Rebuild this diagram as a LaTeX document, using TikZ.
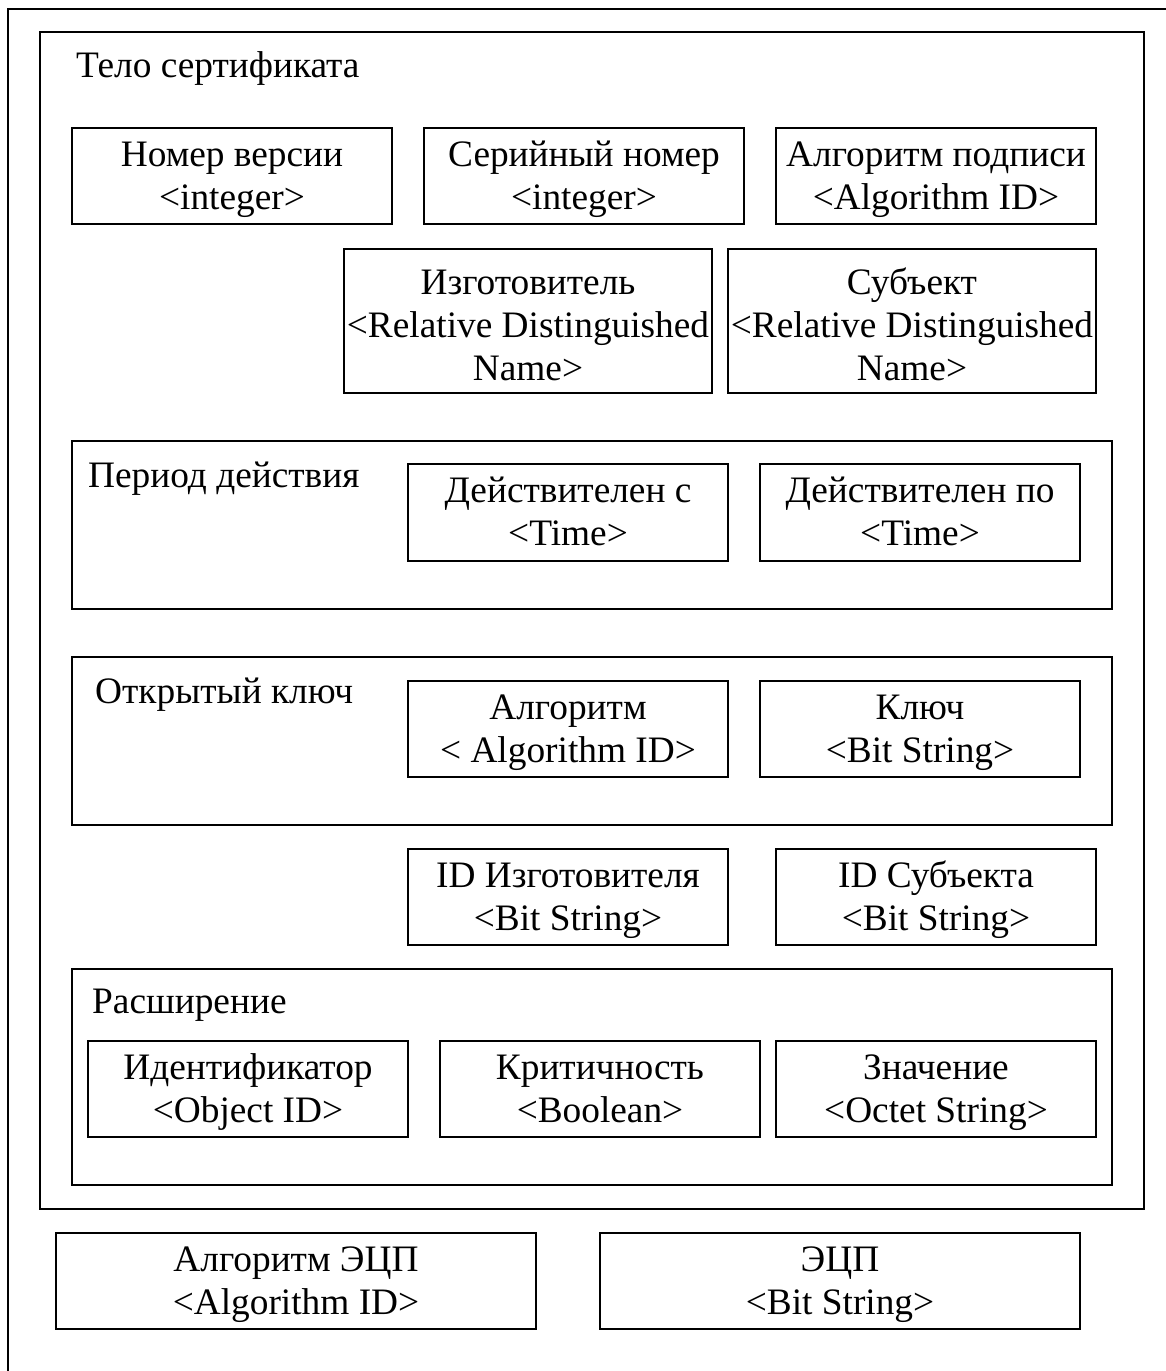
\documentclass[tikz,border=0pt]{standalone}
\usepackage{fontspec}
\setmainfont{Liberation Serif}
\newcommand\bigfs{\fontsize{37.33}{43}\selectfont}
\begin{document}
\begin{tikzpicture}[x=1pt,y=-1pt,
  box/.style={draw, line width=1.6pt, inner sep=0pt, align=center, font=\bigfs,
    text height=66pt, text depth=0pt, minimum width=320pt, minimum height=96pt},
  tallbox/.style={box, text height=118pt, minimum width=368pt, minimum height=144pt},
  widebox/.style={box, minimum width=480pt},
  frame/.style={draw, line width=1.6pt},
  lbl/.style={inner sep=0pt, font=\bigfs, anchor=base west}]
\useasboundingbox (0,0) rectangle (1166,1371);
% outer frame (right and bottom edges fall outside the picture)
\draw[frame] (1170,9) -- (8,9) -- (8,1375);
% certificate body
\draw[frame] (40,32) rectangle (1144,1209);
\node[lbl] (body) at (76,77) {Тело сертификата};
% first row
\node[box] (ver) at (232,176) {Номер версии\\<integer>};
\node[box] (ser) at (584,176) {Серийный номер\\<integer>};
\node[box] (sigalg) at (936,176) {Алгоритм подписи\\<Algorithm ID>};
% second row
\node[tallbox] (iss) at (528,321) {Изготовитель\\<Relative Distinguished\\Name>};
\node[tallbox] (subj) at (912,321) {Субъект\\<Relative Distinguished\\Name>};
% validity
\draw[frame] (72,441) rectangle (1112,609);
\node[lbl] (per) at (88,487) {Период действия};
\node[box, minimum height=97pt] (from) at (568,512.5) {Действителен с\\<Time>};
\node[box, minimum height=97pt] (to) at (920,512.5) {Действителен по\\<Time>};
% public key
\draw[frame] (72,657) rectangle (1112,825);
\node[lbl] (pk) at (95,703) {Открытый ключ};
\node[box] (alg) at (568,729) {Алгоритм\\< Algorithm ID>};
\node[box] (key) at (920,729) {Ключ\\<Bit String>};
% unique ids
\node[box] (idi) at (568,897) {ID Изготовителя\\<Bit String>};
\node[box] (ids) at (936,897) {ID Субъекта\\<Bit String>};
% extension
\draw[frame] (72,969) rectangle (1112,1185);
\node[lbl] (ext) at (92,1013) {Расширение};
\node[box] (eid) at (248,1089) {Идентификатор\\<Object ID>};
\node[box] (crit) at (600,1089) {Критичность\\<Boolean>};
\node[box] (val) at (936,1089) {Значение\\<Octet String>};
% signature
\node[widebox] (salg) at (296,1281) {Алгоритм ЭЦП\\<Algorithm ID>};
\node[widebox] (sig) at (840,1281) {ЭЦП\\<Bit String>};
\end{tikzpicture}
\end{document}
